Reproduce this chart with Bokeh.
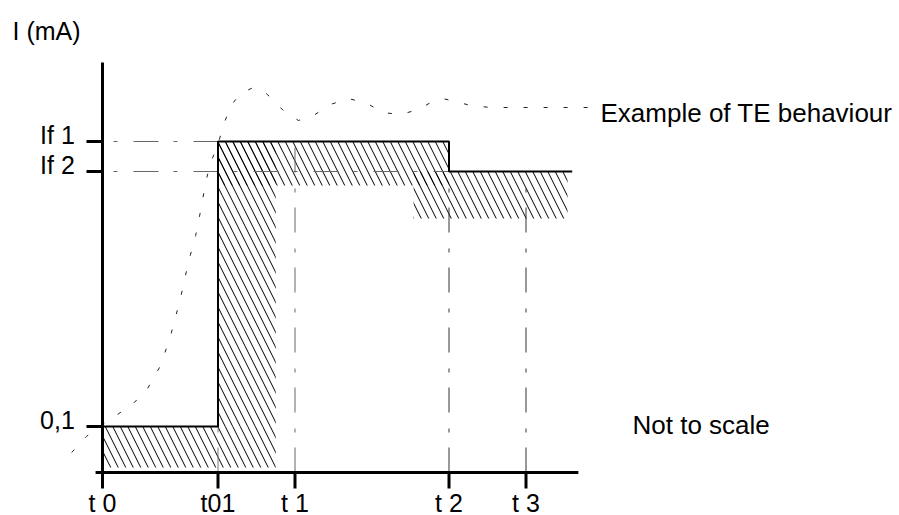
from bokeh.plotting import figure
from bokeh.models import Range1d
from bokeh.core.properties import value
from bokeh.embed import file_html
from bokeh.resources import INLINE

# ---- data (arbitrary, "not to scale" units) ----
x_tick_values = [0, 3, 5, 9, 11]
x_tick_labels = ["t 0", "t01", "t 1", "t 2", "t 3"]
y_tick_values = [4.6, 30.1, 33.1]
y_tick_labels = ["0,1", "If 2", "If 1"]

# step current profile
step_x = [0, 3, 3, 9, 9, 12.2]
step_y = [4.6, 4.6, 33.1, 33.1, 30.1, 30.1]

# hatched tolerance zones (left, right, bottom, top)
zone_left = [0, 3, 3, 8.08]
zone_right = [4.5, 4.5, 9, 12.08]
zone_bottom = [0.5, 4.6, 28.7, 25.4]
zone_top = [4.6, 33.1, 33.1, 30.1]

# example TE behaviour (dotted)
te_x = [-0.8, -0.42, 0.0, 0.39, 0.8, 1.17, 1.51, 1.77, 2.03, 2.23, 2.42, 2.55,
        2.68, 2.8, 2.99, 3.14, 3.32, 3.58, 3.92, 4.23, 4.49, 4.75, 5.09, 5.48,
        5.92, 6.39, 6.88, 7.27, 7.74, 8.21, 8.57, 8.83, 9.17, 9.56, 10.08, 12.68]
te_y = [2.0, 3.6, 4.8, 5.8, 6.9, 8.4, 10.7, 13.7, 17.5, 21.0, 23.7, 26.2,
        29.0, 30.9, 32.7, 34.7, 36.6, 37.9, 38.5, 38.0, 37.0, 36.0, 35.2, 35.7,
        36.8, 37.4, 36.9, 36.0, 35.8, 36.3, 37.1, 37.4, 37.1, 36.7, 36.5, 36.5]

# reference (dash-dot) lines
href_y = [33.1, 30.1]
href_x1 = [3, 9]
vref_x = [3, 5, 9, 11]
vref_y1 = [4.6, 32.5, 28.5, 28.5]

x_axis_end = 12.36
y_axis_top = 41.0

# ---- figure ----
W, H = 899, 515
p = figure(width=W, height=H, output_backend="svg", toolbar_location=None,
           x_range=Range1d(-102 / 38.5, 797 / 38.5), y_range=Range1d(-4.3, 47.2),
           min_border=0)
p.axis.visible = False
p.grid.visible = False
p.outline_line_color = None
p.background_fill_color = "white"

# hatched zones
p.quad(left=zone_left, right=zone_right, bottom=zone_bottom, top=zone_top,
       fill_alpha=0, line_alpha=0, hatch_pattern="\\", hatch_color="black",
       hatch_scale=15, hatch_weight=1)

# dash-dot reference lines
p.segment(x0=[0] * len(href_y), y0=href_y, x1=href_x1, y1=href_y,
          line_color="#666666", line_width=1, line_dash="25 15 4 16",
          line_dash_offset=29)
p.segment(x0=vref_x, y0=[0] * len(vref_x), x1=vref_x, y1=vref_y1,
          line_color=["#777777", "#666666", "#333333", "#333333"], line_width=1,
          line_dash="25 15 4 16")

# step line
p.line(step_x, step_y, line_color="black", line_width=2)

# TE behaviour dotted curve
p.line(te_x, te_y, line_color="#222222", line_width=1, line_dash="4 16")

# axes (drawn as thick lines)
p.segment(x0=[0], y0=[0], x1=[0], y1=[y_axis_top], line_color="black", line_width=3)
p.segment(x0=[-0.18], y0=[0], x1=[x_axis_end], y1=[0], line_color="black", line_width=3)
# ticks
p.segment(x0=x_tick_values, y0=[0] * 5, x1=x_tick_values, y1=[-1.6] * 5,
          line_color="black", line_width=3)
p.segment(x0=[-0.416] * 3, y0=y_tick_values, x1=[0] * 3, y1=y_tick_values,
          line_color="black", line_width=3)

font = value("Liberation Sans")
p.text(x=x_tick_values, y=[-3.0] * 5, text=x_tick_labels, text_font=font,
       text_font_size="25px", text_align="center", text_baseline="alphabetic",
       text_color="black")
p.text(x=[-0.72] * 3, y=[v + 0.7 for v in y_tick_values], text=y_tick_labels,
       text_font=font, text_font_size="25px", text_align="right",
       text_baseline="alphabetic", text_color="black")
p.text(x=[-2.338], y=[44.2], text=["I (mA)"], text_font=font, text_font_size="25px",
       text_align="left", text_baseline="alphabetic", text_color="black")
p.text(x=[12.935], y=[36.0], text=["Example of TE behaviour"], text_font=font,
       text_font_size="26px", text_align="left", text_baseline="alphabetic",
       text_color="black")
p.text(x=[13.766], y=[4.8], text=["Not to scale"], text_font=font,
       text_font_size="26px", text_align="left", text_baseline="alphabetic",
       text_color="black")

open("out.html", "w").write(file_html(p, INLINE))
